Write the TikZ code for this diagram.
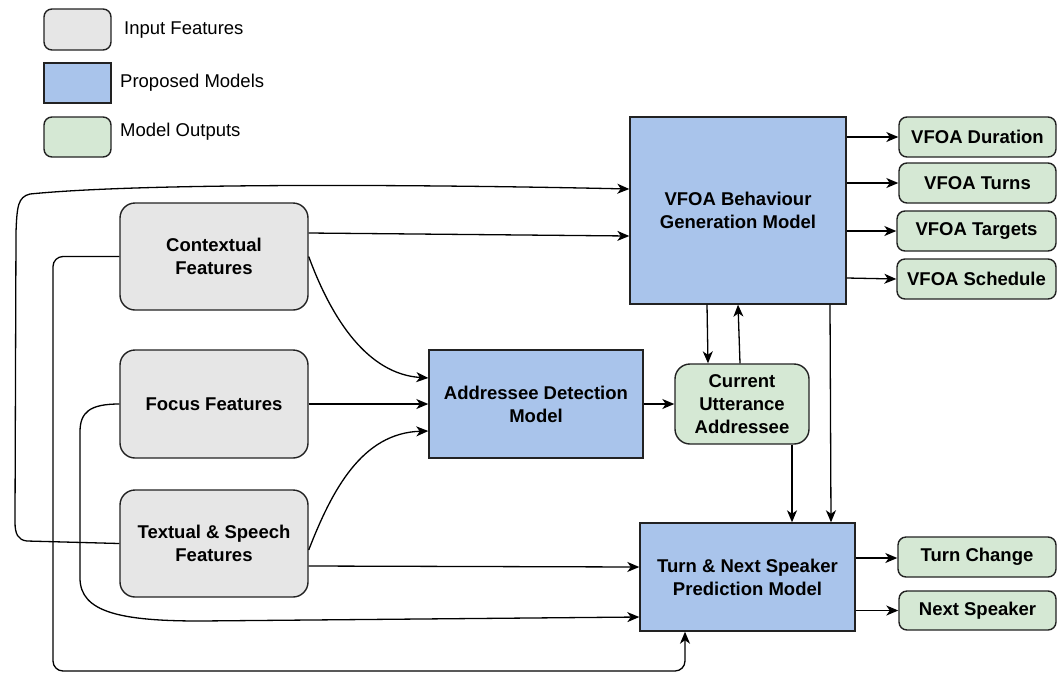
\documentclass[tikz,border=0pt]{standalone}
\usepackage{fontspec}
\setmainfont{Liberation Sans}
\usetikzlibrary{arrows.meta,calc}
\definecolor{featgray}{HTML}{E6E6E6}
\definecolor{modelblue}{HTML}{A9C4EB}
\definecolor{outgreen}{HTML}{D5E8D4}
\definecolor{edgec}{HTML}{222222}
\tikzset{
  base/.style={draw=edgec, line width=1.4pt, align=center, inner sep=0pt,
    font=\bfseries\fontsize{18.5}{23}\selectfont},
  feat/.style={base, fill=featgray, rounded corners=15pt},
  model/.style={base, fill=modelblue},
  outbox/.style={base, fill=outgreen, rounded corners=8pt},
  legtext/.style={anchor=west, inner sep=0pt, font=\fontsize{18.5}{23}\selectfont},
  conn/.style={draw=black, line width=1.3pt, -{Stealth[length=12pt,width=10pt,inset=3.5pt]}},
}
\begin{document}
\begin{tikzpicture}[x=1pt,y=-1pt]
\useasboundingbox (0,0) rectangle (1057,673);

% legend
\node[base, fill=featgray, rounded corners=8pt, minimum width=67pt, minimum height=41pt] (leg1) at (77.5,29.5) {};
\node[base, fill=modelblue, minimum width=67pt, minimum height=40pt] (leg2) at (77.5,83) {};
\node[base, fill=outgreen, rounded corners=8pt, minimum width=67pt, minimum height=40pt] (leg3) at (77.5,137) {};
\node[legtext] (leg1t) at (124,30) {Input Features};
\node[legtext] (leg2t) at (120,83) {Proposed Models};
\node[legtext] (leg3t) at (120,132) {Model Outputs};

% input features
\node[feat, minimum width=188pt, minimum height=107pt] (ctx) at (214,256.5) {Contextual\\Features};
\node[feat, minimum width=188pt, minimum height=108pt] (foc) at (214,404) {Focus Features};
\node[feat, minimum width=188pt, minimum height=107pt] (txt) at (214,543.5) {Textual \& Speech\\Features};

% models
\node[model, minimum width=214pt, minimum height=108pt] (add) at (536,404) {Addressee Detection\\Model};
\node[model, minimum width=216pt, minimum height=187pt] (vfoa) at (738,210.5) {VFOA Behaviour\\Generation Model};
\node[model, minimum width=215pt, minimum height=108pt] (turn) at (747.5,577) {Turn \& Next Speaker\\Prediction Model};

% outputs
\node[outbox, rounded corners=15pt, minimum width=134pt, minimum height=80pt] (cua) at (742,404) {Current\\Utterance\\Addressee};
\node[outbox, minimum width=157pt, minimum height=40pt] (dur) at (977.5,137) {VFOA Duration};
\node[outbox, minimum width=157pt, minimum height=40pt] (turns) at (977.5,183) {VFOA Turns};
\node[outbox, minimum width=159pt, minimum height=40pt] (targ) at (976.5,231) {VFOA Targets};
\node[outbox, minimum width=159pt, minimum height=40pt] (sched) at (976.5,279) {VFOA Schedule};
\node[outbox, minimum width=158pt, minimum height=40pt] (tc) at (977,557) {Turn Change};
\node[outbox, minimum width=157pt, minimum height=39pt] (ns) at (977.5,610.5) {Next Speaker};

% VFOA outputs
\draw[conn] (vfoa.east |- dur.west) -- (dur.west);
\draw[conn] (vfoa.east |- turns.west) -- (turns.west);
\draw[conn] (vfoa.east |- targ.west) -- (targ.west);
\draw[conn] ([yshift=1pt]vfoa.east |- sched.west) -- (sched.west);

% turn outputs
\draw[conn] ([yshift=-1pt]turn.east |- tc.west) -- ([yshift=-1pt]tc.west);
\draw[conn] (turn.east |- ns.west) -- (ns.west);

% contextual
\draw[conn] ([yshift=23.5pt]ctx.east) -- ([yshift=-25.5pt]vfoa.west);
\draw[conn] (ctx.east) .. controls (332,320) and (368,374) .. ([yshift=26pt]add.west);

% focus
\draw[conn] (foc.east) -- (add.west);

% textual
\draw[conn] ([yshift=-6.5pt]txt.east) .. controls (332,490) and (362,433) .. ([yshift=-27pt]add.west);
\draw[conn] ([yshift=-22.5pt]txt.east) -- ([yshift=10pt]turn.west);

% addressee -> current utterance
\draw[conn] (add.east) -- (cua.west);

% vfoa <-> current utterance
\draw[conn] ([xshift=-31pt]vfoa.south) -- ([xshift=-34pt]cua.north);
\draw[conn] ([xshift=-2pt]cua.north) -- (vfoa.south);

% into turn model from top
\draw[conn] ([xshift=92pt]vfoa.south) -- ([xshift=83.5pt]turn.north);
\draw[conn] ([xshift=50pt]cua.south) -- ([xshift=44.5pt]turn.north);

% contextual loop to turn model bottom
\draw[conn, rounded corners=10pt] (ctx.west) -| (53,671) -| ([xshift=-62.5pt]turn.south);

% focus loop to turn model
\draw[conn] (foc.west) .. controls (90,404) and (80,412) .. (80,432) -- (80,578)
  .. controls (80,612) and (120,621) .. (200,621) -- ([yshift=-40pt]turn.west);

% textual outer loop to VFOA model
\draw[conn] (txt.west) -- (27,541) .. controls (18,540) and (15,534) .. (15,522)
  -- (16,232) .. controls (17,206) and (18,197) .. (30,194)
  .. controls (150,182) and (450,185) .. ([yshift=21.5pt]vfoa.west);

\end{tikzpicture}
\end{document}
